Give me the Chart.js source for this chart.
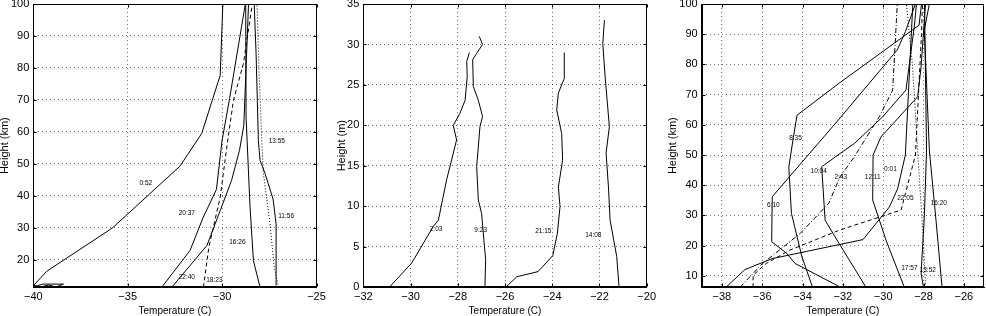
<!DOCTYPE html>
<html><head><meta charset="utf-8">
<script src="https://cdn.jsdelivr.net/npm/chart.js@4"></script>
<style>
html,body{margin:0;padding:0;background:#fff;}
#wrap{position:relative;width:986px;height:316px;overflow:hidden;background:#fff;}
canvas{position:absolute;left:0;top:0;}
</style></head><body>
<div id="wrap">
<canvas id="c1" width="986" height="316"></canvas>
<canvas id="c2" width="986" height="316"></canvas>
<canvas id="c3" width="986" height="316"></canvas>
</div>
<script>
// ---------- Panel 1 (Height km) ----------
const p1XTicks = [-40, -35, -30, -25];
const p1YTicks = [20, 30, 40, 50, 60, 70, 80, 90, 100];
const p1_0052 = [[-40,11.9],[-39.29,16.4],[-35.8,30],[-32.23,49.3],[-31.08,59.5],[-30.1,77.7],[-29.96,100]];
const p1_2037 = [[-33.2,11.4],[-31.7,22.9],[-31.0,33.3],[-30.3,42],[-30.0,57.4],[-29.6,70.5],[-28.77,100]];
const p1_2240 = [[-32.67,11.4],[-30.8,24.5],[-30.1,35.4],[-29.5,44.8],[-29.08,54.2],[-28.85,62],[-28.6,100]];
const p1_1823 = [[-30.99,11.4],[-30.7,24],[-30.1,39.6],[-29.75,55.3],[-29.4,69.9],[-28.87,81.4],[-28.4,100]];
const p1_1626 = [[-27.99,11.4],[-28.34,19.7],[-28.52,36.5],[-28.73,64.7],[-28.75,100]];
const p1_1156 = [[-27.14,11.9],[-27.14,31.2],[-27.3,39],[-27.72,46.9],[-27.99,51.1],[-28.08,57.4],[-28.2,84.5],[-28.3,100]];
const p1_1355 = [[-27.0,11.4],[-27.24,17.6],[-27.46,31.2],[-27.81,46.9],[-27.9,57.4],[-28.05,80],[-28.15,100]];
const p1_sfc  = [[-40,11.5],[-39.5,12.4],[-38.4,12.4],[-38.8,11.5],[-39.2,12.1],[-39.6,11.5],[-40,12.0]];
const p1Labels = [
  {text:'0:52', x:-34.04, y:44.0}, {text:'20:37', x:-31.87, y:34.6}, {text:'13:55', x:-27.1, y:57.1},
  {text:'11:56', x:-26.61, y:33.5}, {text:'16:26', x:-29.19, y:25.4}, {text:'22:40', x:-31.87, y:14.5},
  {text:'18:23', x:-30.41, y:13.5}
];

// ---------- Panel 2 (Height m) ----------
const p2XTicks = [-32, -30, -28, -26, -24, -22, -20];
const p2YTicks = [0, 5, 10, 15, 20, 25, 30, 35];
const p2_0203 = [[-30.9,0],[-29.95,3],[-29.04,7.5],[-28.82,8.3],[-28.47,13.3],[-28.05,18.2],[-28.19,20],[-27.91,21.5],[-27.69,23.1],[-27.6,26],[-27.62,27.9],[-27.51,29]];
const p2_0923 = [[-26.85,0],[-26.82,3.4],[-26.99,9.1],[-27.13,10.8],[-27.2,14.9],[-27.06,19.85],[-26.95,21.1],[-27.13,23.1],[-27.34,24.8],[-27.37,28.1],[-27.2,28.9],[-26.95,30],[-27.09,31]];
const p2_2115 = [[-25.97,0],[-25.5,1.3],[-24.6,1.94],[-23.98,3.9],[-23.78,6.7],[-23.67,10],[-23.74,12.4],[-23.56,15.7],[-23.6,19],[-23.81,21.9],[-23.74,24],[-23.49,25.8],[-23.49,29]];
const p2_1408 = [[-21.17,0],[-21.27,3.8],[-21.55,8.3],[-21.62,12.4],[-21.72,16.6],[-21.58,19.85],[-21.76,26],[-21.86,30.1],[-21.79,33]];
const p2Labels = [
  {text:'2:03', x:-28.92, y:7.17}, {text:'9:23', x:-27.03, y:7.0},
  {text:'21:15', x:-24.38, y:6.88}, {text:'14:08', x:-22.26, y:6.47}
];

// ---------- Panel 3 (Height km) ----------
const p3XTicks = [-38, -36, -34, -32, -30, -28, -26];
const p3YTicks = [10, 20, 30, 40, 50, 60, 70, 80, 90, 100];
const p3_0001 = [[-37.8,6.2],[-36.85,12.1],[-35.5,15.7],[-31.0,22],[-29.69,32.8],[-29.28,38.9],[-28.9,50],[-28.53,100]];
const p3_0243 = [[-37.1,6.2],[-36,14],[-34.12,24],[-32.7,34],[-32.14,42.8],[-31.43,49.4],[-30.19,62.7],[-29.53,71.5],[-29.3,100]];
const p3_2205 = [[-36.45,6.2],[-36.45,10.2],[-35.8,14.1],[-34.63,18.5],[-32.14,25.2],[-29.11,31.8],[-28.4,50],[-28.1,90],[-28.05,100]];
const p3_0835 = [[-33.5,6.2],[-34.03,16.3],[-34.55,30.7],[-34.68,46],[-34.45,56],[-34.27,63.2],[-32.2,73.7],[-28.22,93],[-28.1,100]];
const p3_0610 = [[-32.14,6.3],[-34.37,14.1],[-34.78,17.4],[-35.53,21.3],[-35.5,36.2],[-32.3,61],[-29.3,84.8],[-28.9,90.8],[-28.4,100]];
const p3_1004 = [[-30.85,6.2],[-32.14,20.2],[-32.88,28.4],[-33.05,46.1],[-32.14,50.5],[-31.43,53.8],[-30.02,62.7],[-28.87,71.5],[-28.45,93],[-28.35,100]];
const p3_1211 = [[-28.95,6.2],[-29.86,21.8],[-30.52,35.1],[-30.5,50],[-30.11,56],[-28.29,69.3],[-28.12,79.2],[-27.9,100]];
const p3_1620 = [[-27.08,6.2],[-27.38,28.4],[-27.71,51.6],[-27.96,91.4],[-27.71,100]];
const p3_1757 = [[-28.0,6.2],[-28.12,10.8],[-27.96,29.5],[-27.85,51.6],[-27.95,100]];
const p3_1352 = [[-27.9,6.2],[-27.98,18.5],[-28.25,47],[-28.55,80],[-28.85,100]];
const p3Labels = [
  {text:'8:35', x:-34.35, y:55.7}, {text:'10:04', x:-33.2, y:44.7}, {text:'2:43', x:-32.1, y:42.7},
  {text:'12:11', x:-30.52, y:42.6}, {text:'0:01', x:-29.64, y:45.3}, {text:'6:10', x:-35.45, y:33.4},
  {text:'22:05', x:-28.9, y:35.8}, {text:'16:20', x:-27.24, y:34.2}, {text:'17:57', x:-28.7, y:12.6},
  {text:'13:52', x:-27.79, y:11.9}
];

// ---------- rendering ----------
const FONT = '"Liberation Sans", Arial, Helvetica, sans-serif';
Chart.defaults.font.family = FONT;
Chart.defaults.font.size = 11;
Chart.defaults.color = '#000';

const SOLID = [], DASH = [4,3], DOT = [1,2], DASHDOT = [5,2,1,2];

function ds(pairs, dash) {
  return {
    data: pairs.map(p => ({x: p[0], y: p[1]})),
    showLine: true, borderColor: '#000', borderWidth: 1, borderDash: dash,
    pointRadius: 0, pointHoverRadius: 0, tension: 0, fill: false
  };
}
function fmt(v) { return String(v).replace('-', '\u2212'); }

const framePlugin = {
  id: 'frame',
  afterDraw(chart, args, opts) {
    const {ctx, chartArea: a, scales: {x, y}} = chart;
    ctx.save();
    ctx.strokeStyle = '#000'; ctx.lineWidth = 1; ctx.setLineDash([]);
    const L = Math.round(a.left) + 0.5, R = Math.round(a.right) - 0.5;
    const T = Math.round(a.top) + 0.5, B = Math.round(a.bottom) - 0.5;
    ctx.strokeRect(L, T, R - L, B - T);
    ctx.beginPath();
    x.ticks.forEach(t => {
      const px = Math.round(x.getPixelForValue(t.value)) + 0.5;
      ctx.moveTo(px, B); ctx.lineTo(px, B - 3);
      ctx.moveTo(px, T); ctx.lineTo(px, T + 3);
    });
    y.ticks.forEach(t => {
      const py = Math.round(y.getPixelForValue(t.value)) + 0.5;
      ctx.moveTo(L, py); ctx.lineTo(L + 3, py);
      ctx.moveTo(R, py); ctx.lineTo(R - 3, py);
    });
    ctx.stroke();
    ctx.font = '6.5px ' + FONT;
    ctx.textAlign = 'center'; ctx.textBaseline = 'middle'; ctx.fillStyle = '#000';
    (opts.labels || []).forEach(l => ctx.fillText(l.text, x.getPixelForValue(l.x), y.getPixelForValue(l.y)));
    ctx.restore();
  }
};

function makeChart(id, spec) {
  const Y_W = 33.3, X_H = 316 - 287.3;
  return new Chart(document.getElementById(id), {
    type: 'scatter',
    data: { datasets: spec.datasets },
    options: {
      responsive: false, maintainAspectRatio: false, animation: false, devicePixelRatio: 1,
      events: [],
      layout: { padding: { left: spec.plotLeft - Y_W, right: 986 - spec.plotRight, top: 4, bottom: 0 } },
      plugins: { legend: {display: false}, tooltip: {enabled: false}, frame: { labels: spec.labels } },
      scales: {
        x: {
          type: 'linear', position: 'bottom', min: spec.xMin, max: spec.xMax,
          afterBuildTicks: s => { s.ticks = spec.xTicks.map(v => ({value: v})); },
          afterFit: s => { s.height = X_H; s.paddingLeft = 0; s.paddingRight = 0; },
          ticks: { padding: 3, callback: v => fmt(v), maxRotation: 0, autoSkip: false, font: {size: 11} },
          grid: { color: 'rgba(0,0,0,0.55)', lineWidth: 1, drawTicks: false },
          border: { color: '#000', width: 1, dash: [1, 3] },
          title: { display: true, text: 'Temperature (C)', font: {size: 10}, padding: {top: 0, bottom: -1.5} }
        },
        y: {
          type: 'linear', position: 'left', min: spec.yMin, max: spec.yMax,
          afterBuildTicks: s => { s.ticks = spec.yTicks.map(v => ({value: v})); },
          afterFit: s => { s.width = Y_W; s.paddingTop = 0; s.paddingBottom = 0; },
          ticks: { padding: 4, callback: v => fmt(v), autoSkip: false, font: {size: 11} },
          grid: { color: 'rgba(0,0,0,0.55)', lineWidth: 1, drawTicks: false },
          border: { color: '#000', width: 1, dash: [1, 3] },
          title: { display: true, text: spec.yTitle, font: {size: 11}, padding: {top: spec.yTitlePad, bottom: 0} }
        }
      }
    },
    plugins: [framePlugin]
  });
}

makeChart('c1', {
  plotLeft: 33.3, plotRight: 316.5, xMin: -40, xMax: -25, yMin: 11.4, yMax: 100,
  xTicks: p1XTicks, yTicks: p1YTicks, yTitle: 'Height (km)', yTitlePad: -1.6, labels: p1Labels,
  datasets: [ds(p1_0052, SOLID), ds(p1_2037, SOLID), ds(p1_2240, SOLID), ds(p1_1823, DASH),
             ds(p1_1626, SOLID), ds(p1_1156, SOLID), ds(p1_1355, DOT), ds(p1_sfc, SOLID)]
});
makeChart('c2', {
  plotLeft: 363.3, plotRight: 646.7, xMin: -32, xMax: -20, yMin: 0, yMax: 35,
  xTicks: p2XTicks, yTicks: p2YTicks, yTitle: 'Height (m)', yTitlePad: 5.4, labels: p2Labels,
  datasets: [ds(p2_0203, SOLID), ds(p2_0923, SOLID), ds(p2_2115, SOLID), ds(p2_1408, SOLID)]
});
makeChart('c3', {
  plotLeft: 701.7, plotRight: 984, xMin: -39, xMax: -25, yMin: 6.2, yMax: 100,
  xTicks: p3XTicks, yTicks: p3YTicks, yTitle: 'Height (km)', yTitlePad: -2.2, labels: p3Labels,
  datasets: [ds(p3_0001, SOLID), ds(p3_0243, DASHDOT), ds(p3_2205, DASH), ds(p3_0835, SOLID),
             ds(p3_0610, SOLID), ds(p3_1004, SOLID), ds(p3_1211, SOLID), ds(p3_1620, SOLID),
             ds(p3_1757, SOLID), ds(p3_1352, DOT)]
});
</script>
</body></html>
